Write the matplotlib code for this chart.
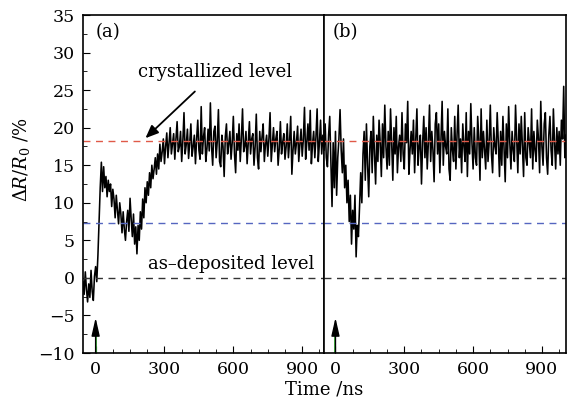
import matplotlib
matplotlib.use("Agg")
import matplotlib.pyplot as plt
import numpy as np
from matplotlib.ticker import MultipleLocator

plt.rcParams["font.family"] = "DejaVu Serif"
plt.rcParams["mathtext.fontset"] = "dejavuserif"

# sampled reflectivity change, panel (a): t = -55 ns + 5 ns * i
dr_a = [
    -0.5, -2.2, 0.8, -1.5, -3.2, -0.8, -2.6, 1.0, -1.8, -3.0, 0.2,
    1.5, -0.5, 3.0, 7.5,
    12.0, 15.4, 11.5, 14.8, 12.0, 13.5, 10.8, 13.0, 11.5, 12.5,
    9.5, 11.8, 10.5, 8.0, 11.0, 9.0, 7.2, 10.0, 8.5, 6.0,
    8.8, 6.5, 5.0, 7.5, 9.0, 6.2, 10.6, 7.8, 5.5, 8.5,
    4.5, 6.8, 3.2, 7.0, 5.0, 8.8, 6.5, 10.5, 8.0, 12.0,
    10.0, 12.8, 11.0, 14.0, 12.0, 15.0, 13.2, 14.5, 16.0, 13.8,
    16.5, 14.5, 17.8, 15.5, 16.8, 18.5, 15.2, 17.5, 19.3, 16.0,
    18.0, 20.0, 16.5, 17.8, 19.2, 15.8, 18.5, 20.8, 16.8, 17.5,
    19.5, 15.5, 18.2, 22.0, 16.5, 17.8, 19.8, 15.9, 18.0, 20.5,
    16.2, 17.5, 19.0, 15.2, 18.5, 21.0, 17.0, 15.8, 22.8, 16.5,
    18.8, 20.0, 15.5, 17.2, 19.8, 16.9, 23.3, 17.5, 15.0, 19.5,
    20.2, 16.0, 18.2, 22.4, 15.5, 14.8, 19.0, 17.5, 13.5, 18.8,
    20.5, 16.5, 17.8, 19.5, 15.8, 18.0, 21.5, 16.5, 14.0, 19.2,
    17.0, 20.5, 15.5, 18.5, 22.5, 16.8, 17.5, 19.5, 15.2, 18.0,
    20.8, 16.5, 18.5, 19.2, 15.0, 17.5, 21.8, 16.0, 14.5, 19.5,
    16.8, 18.8, 20.5, 15.5, 17.8, 19.0, 16.2, 18.5, 22.0, 15.5,
    17.8, 20.0, 16.8, 18.5, 19.5, 15.0, 17.2, 20.8, 16.5, 18.0,
    19.2, 15.8, 17.5, 20.5, 16.0, 18.2, 21.5, 13.8, 17.0, 19.5,
    16.5, 18.0, 20.2, 15.5, 17.8, 19.8, 16.2, 18.5, 22.7, 15.8,
    18.0, 20.5, 17.0, 22.3, 15.2, 17.8, 19.5, 16.0, 18.8, 22.5,
    15.5, 18.0, 21.0, 16.5, 19.0, 17.5,
]
t0_a, dt_a = -55.0, 5.0

# panel (b): t = -50 ns + 5 ns * i
dr_b = [
    17.0, 20.5, 16.0, 14.8, 19.0, 21.5, 15.5, 9.5, 18.0, 12.0,
    19.5, 11.0, 16.0, 18.5, 22.4, 17.0, 14.0, 18.5, 12.0, 15.0,
    10.0, 13.0, 7.5, 11.0, 4.5, 9.0, 6.5, 11.0, 2.8, 7.0,
    5.5, 9.5, 14.0, 10.0, 16.5, 19.5, 13.0, 20.5, 15.0, 10.8,
    17.5, 19.5, 14.0, 21.5, 16.5, 12.5, 19.0, 15.5, 21.0, 18.0,
    13.5, 20.5, 16.0, 23.0, 17.5, 14.5, 19.5, 15.0, 22.5, 18.0,
    13.0, 20.0, 16.5, 21.5, 14.0, 17.5, 19.0, 15.5, 22.0, 16.5,
    14.5, 20.5, 18.0, 23.5, 13.8, 17.0, 19.5, 16.5, 21.0, 14.0,
    18.5, 22.5, 15.0, 17.5, 19.0, 12.5, 18.0, 21.5, 16.0, 20.0,
    14.5, 18.0, 23.0, 15.5, 19.5, 17.0, 12.8, 20.5, 22.0, 16.5,
    20.5, 14.0, 18.5, 23.5, 15.0, 19.5, 17.5, 16.5, 22.5, 14.5,
    13.0, 20.0, 17.0, 15.5, 21.5, 14.5, 19.0, 23.0, 16.0, 18.5,
    14.0, 20.5, 17.5, 15.5, 22.0, 13.5, 19.5, 16.5, 23.2, 18.0,
    14.5, 20.0, 16.0, 15.0, 21.5, 18.5, 13.0, 22.5, 16.0, 19.5,
    17.0, 14.5, 21.0, 15.5, 18.0, 23.0, 16.5, 14.0, 20.0, 17.5,
    16.5, 22.0, 18.0, 13.5, 19.5, 15.0, 21.5, 17.0, 12.8, 20.5,
    16.0, 22.8, 18.0, 14.5, 19.5, 17.0, 15.5, 23.0, 18.5, 14.0,
    20.5, 16.5, 21.5, 17.5, 13.5, 22.0, 16.0, 15.0, 20.0, 18.0,
    16.0, 22.5, 14.5, 19.5, 17.0, 15.5, 21.0, 18.5, 14.0, 23.5,
    17.5, 15.0, 20.5, 22.0, 16.0, 13.8, 19.0, 21.5, 17.0, 15.0,
    22.5, 18.0, 14.5, 20.0, 16.5, 19.5, 15.0, 21.0, 18.5, 25.5,
    16.0, 19.0,
]
t0_b, dt_b = -50.0, 5.0

crystal_level = 18.2
mid_level = 7.3
asdep_level = 0.0
xticks = [0, 300, 600, 900]

t_a = t0_a + dt_a * np.arange(len(dr_a))
t_b = t0_b + dt_b * np.arange(len(dr_b))

fig = plt.figure(figsize=(5.78, 4.01), dpi=100)
ax_a = fig.add_axes([83 / 578, 1 - 353 / 401, 241 / 578, 338 / 401])
ax_b = fig.add_axes([324 / 578, 1 - 353 / 401, 242 / 578, 338 / 401])

for ax, t, dr, xl in [(ax_a, t_a, dr_a, (-55, 995)), (ax_b, t_b, dr_b, (-50, 1005))]:
    ax.plot(t, dr, color="black", lw=1.15)
    ax.axhline(crystal_level, color="#e05a48", lw=1, ls=(0, (5, 4)))
    ax.axhline(mid_level, color="#5566c0", lw=1, ls=(0, (5, 4)))
    ax.axhline(asdep_level, color="#333333", lw=1, ls=(0, (5, 4)))
    ax.set_xlim(*xl)
    ax.set_ylim(-10, 35)
    ax.set_xticks(xticks)
    ax.xaxis.set_minor_locator(MultipleLocator(75))
    ax.yaxis.set_major_locator(MultipleLocator(5))
    ax.yaxis.set_minor_locator(MultipleLocator(2.5))
    ax.tick_params(which="both", direction="in", labelsize=12.5, pad=6)
    ax.tick_params(which="major", length=5)
    ax.tick_params(which="minor", length=3)
    for s in ax.spines.values():
        s.set_linewidth(1.2)
    # excitation pulse marker
    ax.annotate("", xy=(0, -5.3), xytext=(0, -10),
                arrowprops=dict(arrowstyle="-|>,head_length=1.1,head_width=0.25",
                                color="black", lw=1, shrinkA=0, shrinkB=0))
    ax.plot([0, 0], [-10, -7.4], color="#3cc03c", lw=1.3)

ax_b.tick_params(axis="y", which="both", left=False, labelleft=False)

ax_a.text(0.054, 0.95, "(a)", transform=ax_a.transAxes, fontsize=13, va="center")
ax_b.text(0.036, 0.95, "(b)", transform=ax_b.transAxes, fontsize=13, va="center")

ax_a.annotate("crystallized level", xy=(217, 18.6), xytext=(522, 27.4),
              fontsize=13, ha="center", va="center",
              arrowprops=dict(arrowstyle="-|>,head_length=0.6,head_width=0.25",
                              color="black", lw=1.3, shrinkA=8, shrinkB=0))
ax_a.text(591, 1.9, "as\u2013deposited level", fontsize=13, ha="center", va="center")

fig.text(324 / 578, 1 - 390 / 401, "Time /ns", fontsize=13, ha="center", va="center")
fig.text(22 / 578, 1 - 160 / 401, r"$\Delta R/R_0$ /%", fontsize=13,
         ha="center", va="center", rotation=90)

fig.savefig("out.png", dpi=100)
